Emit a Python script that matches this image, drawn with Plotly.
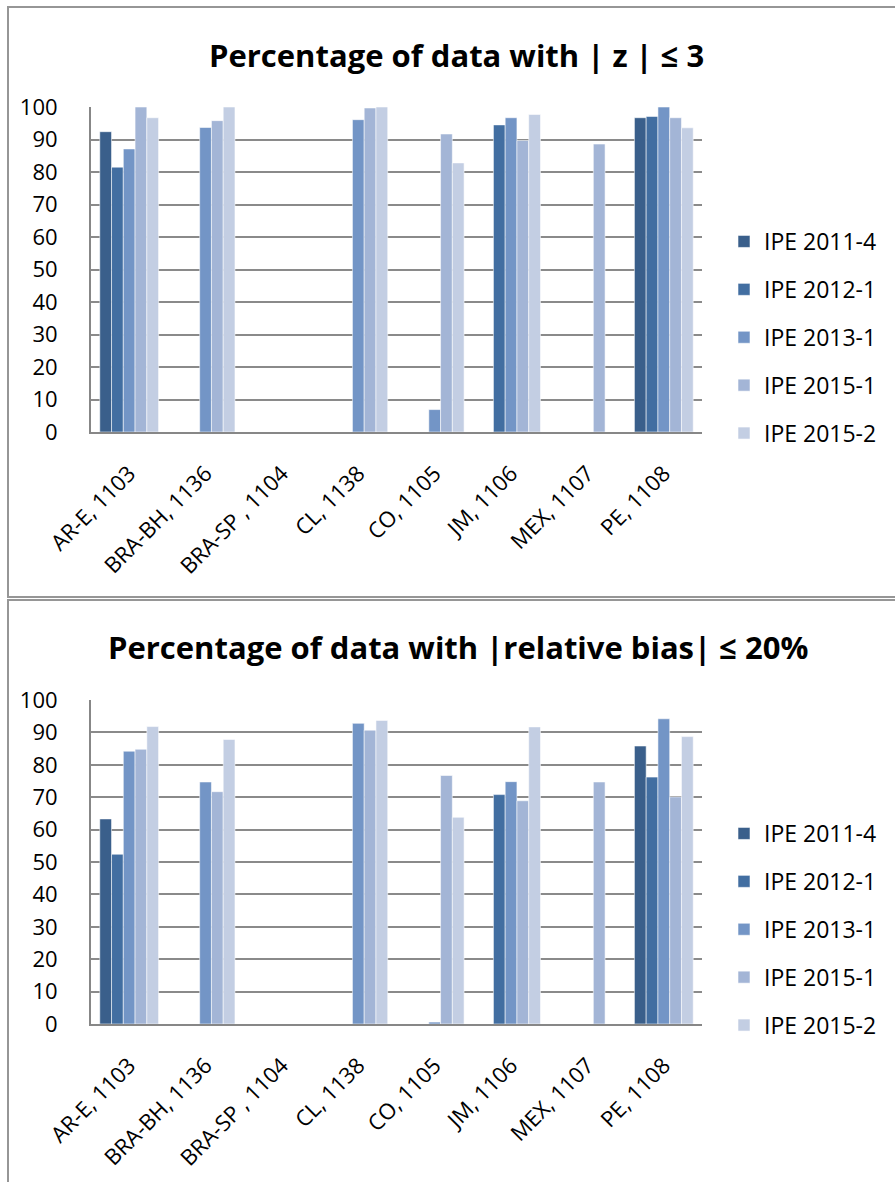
import plotly.graph_objects as go

# Sites (categories on the x axis)
sites = ["AR-E, 1103", "BRA-BH, 1136", "BRA-SP , 1104", "CL, 1138",
         "CO, 1105", "JM, 1106", "MEX, 1107", "PE, 1108"]

# Rounds of the intercomparison exercise
rounds = ["IPE 2011-4", "IPE 2012-1", "IPE 2013-1", "IPE 2015-1", "IPE 2015-2"]

# Percentage of data with |z| <= 3
z_2011_4 = [92.4, None, None, None, None, None, None, 96.7]
z_2012_1 = [81.5, None, None, None, None, 94.5, None, 97.1]
z_2013_1 = [87.1, 93.7, None, 96.1, 6.9, 96.7, None, 100.0]
z_2015_1 = [100.0, 95.8, None, 99.7, 91.7, 89.7, 88.6, 96.7]
z_2015_2 = [96.7, 100.0, None, 100.0, 82.8, 97.7, None, 93.6]

# Percentage of data with |relative bias| <= 20%
bias_2011_4 = [63.3, None, None, None, None, None, None, 85.8]
bias_2012_1 = [52.4, None, None, None, None, 70.8, None, 76.2]
bias_2013_1 = [84.2, 74.7, None, 92.8, 0.6, 74.8, None, 94.2]
bias_2015_1 = [84.8, 71.7, None, 90.7, 76.7, 68.9, 74.7, 70.1]
bias_2015_2 = [91.8, 87.8, None, 93.7, 63.8, 91.7, None, 88.7]

colors = ["#3A5F8B", "#426EA1", "#7395C6", "#A3B5D6", "#C3CEE3"]

W, H = 895, 1182
FONT = "'Open Sans', Lato, sans-serif"


def py(px):
    """Convert a pixel row (from the top) to paper y."""
    return 1 - px / H


def px_x(px):
    return px / W


fig = go.Figure()

z_series = [z_2011_4, z_2012_1, z_2013_1, z_2015_1, z_2015_2]
bias_series = [bias_2011_4, bias_2012_1, bias_2013_1, bias_2015_1, bias_2015_2]

for name, vals, col in zip(rounds, z_series, colors):
    fig.add_trace(go.Bar(
        x=sites, y=vals, name=name, marker_color=col,
        marker_line=dict(color="rgba(255,255,255,0.55)", width=1),
        xaxis="x", yaxis="y", legend="legend", legendgroup="a" + name,
    ))

for name, vals, col in zip(rounds, bias_series, colors):
    fig.add_trace(go.Bar(
        x=sites, y=vals, name=name, marker_color=col,
        marker_line=dict(color="rgba(255,255,255,0.55)", width=1),
        xaxis="x2", yaxis="y2", legend="legend2", legendgroup="b" + name,
    ))

x_dom = [px_x(91), px_x(702)]
axis_common_x = dict(
    domain=x_dom, tickangle=-45, showgrid=False, showline=True,
    linecolor="#878787", linewidth=2, ticks="", ticklabelstandoff=18,
    automargin=False,
    tickfont=dict(family=FONT, size=22, color="#000"),
)
axis_common_y = dict(
    range=[0, 100], dtick=10, showgrid=True, gridcolor="#8A8A8A",
    gridwidth=1.6, showline=True, linecolor="#878787", linewidth=2,
    ticks="", zeroline=False, ticklabelstandoff=27, automargin=False,
    tickfont=dict(family=FONT, size=22, color="#000"),
)

legend_common = dict(
    font=dict(family=FONT, size=23, color="#000"),
    bgcolor="rgba(0,0,0,0)", tracegroupgap=15, itemwidth=30,
    xanchor="left", yanchor="top", traceorder="grouped",
)

fig.update_layout(
    width=W, height=H, margin=dict(l=0, r=0, t=0, b=0, autoexpand=False),
    paper_bgcolor="white", plot_bgcolor="white",
    barmode="group", bargap=0.23, bargroupgap=0,
    xaxis=dict(anchor="y", **axis_common_x),
    yaxis=dict(anchor="x", domain=[py(432), py(107)], **axis_common_y),
    xaxis2=dict(anchor="y2", **axis_common_x),
    yaxis2=dict(anchor="x2", domain=[py(1024), py(700)], **axis_common_y),
    legend=dict(x=px_x(724), y=py(220), **legend_common),
    legend2=dict(x=px_x(724), y=py(812), **legend_common),
    annotations=[
        dict(text="<b>Percentage of data with | z | ≤ 3</b>",
             x=px_x(456), y=py(55), xref="paper", yref="paper",
             xanchor="center", yanchor="middle", showarrow=False,
             font=dict(family=FONT, size=31, color="#000")),
        dict(text="<b>Percentage of data with |relative bias| ≤ 20%</b>",
             x=px_x(458), y=py(647), xref="paper", yref="paper",
             xanchor="center", yanchor="middle", showarrow=False,
             font=dict(family=FONT, size=31, color="#000")),
    ],
    shapes=[
        dict(type="rect", xref="paper", yref="paper",
             x0=px_x(8), x1=px_x(900), y0=py(597), y1=py(7),
             line=dict(color="#969696", width=2)),
        dict(type="rect", xref="paper", yref="paper",
             x0=px_x(8), x1=px_x(900), y0=py(1190), y1=py(600),
             line=dict(color="#969696", width=2)),
    ],
)

fig.write_html("out.html")
